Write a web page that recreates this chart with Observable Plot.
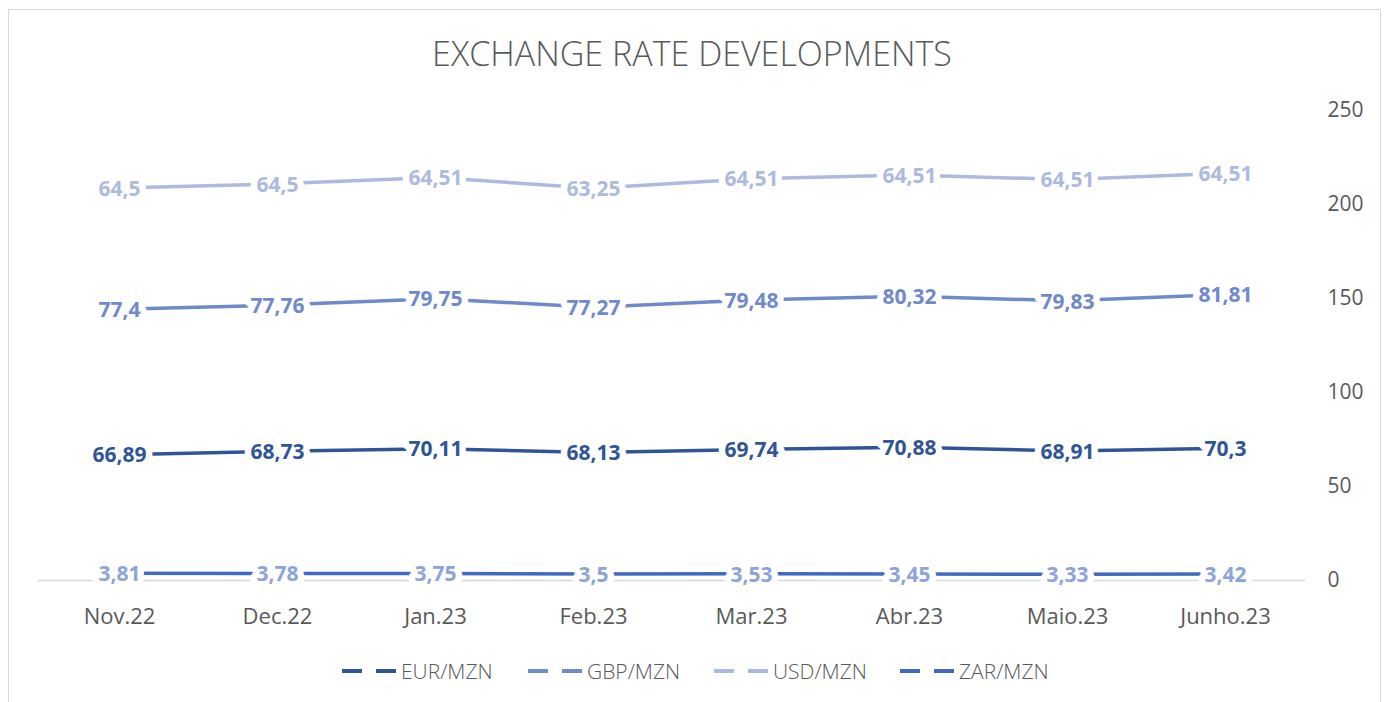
<!DOCTYPE html>
<html>
<head>
<meta charset="utf-8">
<script src="https://cdn.jsdelivr.net/npm/d3@7"></script>
<script src="https://cdn.jsdelivr.net/npm/@observablehq/plot@0.6"></script>
<style>
  html, body { margin: 0; padding: 0; background: #fff; }
  #wrap { position: relative; width: 1384px; height: 702px; overflow: hidden; font-family: "Open Sans", sans-serif; }
  #frame { position: absolute; left: 8px; top: 9px; width: 1373px; height: 720px; border: 1.5px solid #D9D9D9; box-sizing: border-box; }
  #title { position: absolute; top: 30px; left: 0; width: 1384px; text-align: center; color: #595959; font-weight: 300; font-size: 30px; white-space: nowrap; }
  #title span { display: inline-block; }
  #chart { position: absolute; left: 0; top: 90px; }
  #legend { position: absolute; top: 657px; left: 342px; display: flex; }
  .item { width: 186px; display: flex; align-items: center; color: #595959; font-weight: 300; font-size: 21px; height: 28px; white-space: nowrap; }
  .item svg { margin-right: 5px; }
</style>
</head>
<body>
<div id="wrap">
  <div id="frame"></div>
  <div id="title"><span id="titleText">EXCHANGE RATE DEVELOPMENTS</span></div>
  <div id="chart"></div>
  <div id="legend"></div>
</div>
<script>
// ---- data ----
const months = ["Nov.22", "Dec.22", "Jan.23", "Feb.23", "Mar.23", "Abr.23", "Maio.23", "Junho.23"];
const seriesNames = ["EUR/MZN", "GBP/MZN", "USD/MZN", "ZAR/MZN"];
const eur = [66.89, 68.73, 70.11, 68.13, 69.74, 70.88, 68.91, 70.3];
const gbp = [77.4, 77.76, 79.75, 77.27, 79.48, 80.32, 79.83, 81.81];
const usd = [64.5, 64.5, 64.51, 63.25, 64.51, 64.51, 64.51, 64.51];
const zar = [3.81, 3.78, 3.75, 3.5, 3.53, 3.45, 3.33, 3.42];
const yTicks = [0, 50, 100, 150, 200, 250];

// ---- styles ----
const lineColors = {"EUR/MZN": "#2F5597", "GBP/MZN": "#6F89CB", "USD/MZN": "#ADBADF", "ZAR/MZN": "#4169BF"};
const labelColors = {"EUR/MZN": "#2F5597", "GBP/MZN": "#6F89CB", "USD/MZN": "#ADBADF", "ZAR/MZN": "#8DA4DA"};

// Build table: EUR, GBP, USD are stacked (cumulative); ZAR is drawn on its own
const rows = [];
months.forEach((m, i) => {
  const c1 = eur[i], c2 = c1 + gbp[i], c3 = c2 + usd[i];
  rows.push({month: m, series: "EUR/MZN", value: eur[i], pos: c1});
  rows.push({month: m, series: "GBP/MZN", value: gbp[i], pos: c2});
  rows.push({month: m, series: "USD/MZN", value: usd[i], pos: c3});
  rows.push({month: m, series: "ZAR/MZN", value: zar[i], pos: zar[i]});
});
const fmt = v => String(v).replace(".", ",");

const drawOrder = ["USD/MZN", "GBP/MZN", "EUR/MZN", "ZAR/MZN"];
const marks = [
  Plot.ruleY([0], {stroke: "#D9D9D9", strokeWidth: 1.5})
];
for (const s of drawOrder) {
  const d = rows.filter(r => r.series === s);
  marks.push(Plot.line(d, {x: "month", y: "pos", stroke: lineColors[s], strokeWidth: 3.5}));
}
for (const s of drawOrder) {
  const d = rows.filter(r => r.series === s);
  marks.push(Plot.text(d, {
    x: "month", y: "pos", text: r => fmt(r.value),
    fill: labelColors[s], stroke: "white", strokeWidth: 13, strokeLinejoin: "round",
    fontSize: 21, fontWeight: "bold", dy: 1
  }));
}
marks.push(Plot.axisY({anchor: "right", ticks: yTicks, tickSize: 0, tickPadding: 22, fontSize: 21, color: "#595959", label: null}));
marks.push(Plot.axisX({anchor: "bottom", tickSize: 0, tickPadding: 28, fontSize: 22, color: "#595959", label: null}));

const chart = Plot.plot({
  width: 1384,
  height: 550,
  marginLeft: 38,
  marginRight: 79,
  marginTop: 20,
  marginBottom: 60,
  style: {fontFamily: "'Open Sans', sans-serif", background: "transparent", overflow: "visible"},
  x: {type: "point", domain: months, padding: 0.5},
  y: {domain: [0, 250]},
  marks
});
document.getElementById("chart").appendChild(chart);

// Legend
const legend = document.getElementById("legend");
for (const s of seriesNames) {
  const item = document.createElement("div");
  item.className = "item";
  item.innerHTML = `<svg width="54" height="6"><line x1="0" x2="20" y1="3" y2="3" stroke="${lineColors[s]}" stroke-width="4"/><line x1="34" x2="54" y1="3" y2="3" stroke="${lineColors[s]}" stroke-width="4"/></svg><span>${s}</span>`;
  legend.appendChild(item);
}

// Fit title width to the reference (~520px)
const tt = document.getElementById("titleText");
const w = tt.getBoundingClientRect().width;
tt.style.fontSize = (30 * 520 / w) + "px";
</script>
</body>
</html>
